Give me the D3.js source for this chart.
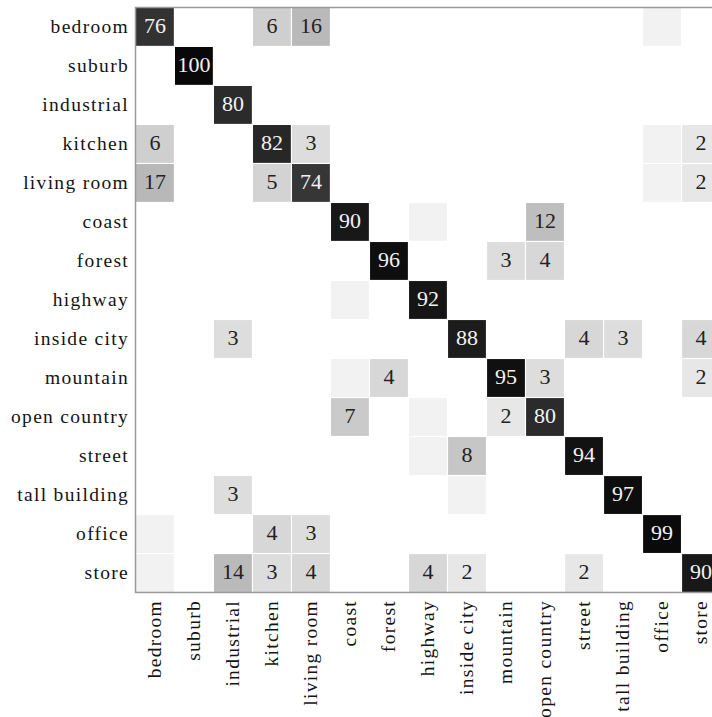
<!DOCTYPE html>
<html>
<head>
<meta charset="utf-8">
<script src="https://cdn.jsdelivr.net/npm/d3@7"></script>
<style>
  html, body { margin: 0; padding: 0; background: #fff; }
  svg { display: block; }
  svg text { font-family: "Liberation Serif"; }
</style>
</head>
<body>
<svg id="chart" width="712" height="717"></svg>
<script>
// Scene classes (true class on rows, predicted class on columns)
const categories = [
  "bedroom", "suburb", "industrial", "kitchen", "living room", "coast", "forest",
  "highway", "inside city", "mountain", "open country", "street", "tall building",
  "office", "store"
];

// Confusion matrix, percentages per true class
const matrix = [
  [76, 0, 0, 6, 16, 0, 0, 0, 0, 0, 0, 0, 0, 1, 0],
  [0, 100, 0, 0, 0, 0, 0, 0, 0, 0, 0, 0, 0, 0, 0],
  [0, 0, 80, 0, 0, 0, 0, 0, 0, 0, 0, 0, 0, 0, 0],
  [6, 0, 0, 82, 3, 0, 0, 0, 0, 0, 0, 0, 0, 1, 2],
  [17, 0, 0, 5, 74, 0, 0, 0, 0, 0, 0, 0, 0, 1, 2],
  [0, 0, 0, 0, 0, 90, 0, 1, 0, 0, 12, 0, 0, 0, 0],
  [0, 0, 0, 0, 0, 0, 96, 0, 0, 3, 4, 0, 0, 0, 0],
  [0, 0, 0, 0, 0, 1, 0, 92, 0, 0, 0, 0, 0, 0, 0],
  [0, 0, 3, 0, 0, 0, 0, 0, 88, 0, 0, 4, 3, 0, 4],
  [0, 0, 0, 0, 0, 1, 4, 0, 0, 95, 3, 0, 0, 0, 2],
  [0, 0, 0, 0, 0, 7, 0, 1, 0, 2, 80, 0, 0, 0, 0],
  [0, 0, 0, 0, 0, 0, 0, 1, 8, 0, 0, 94, 0, 0, 0],
  [0, 0, 3, 0, 0, 0, 0, 0, 1, 0, 0, 0, 97, 0, 0],
  [1, 0, 0, 4, 3, 0, 0, 0, 0, 0, 0, 0, 0, 99, 0],
  [1, 0, 14, 3, 4, 0, 0, 4, 2, 0, 0, 2, 0, 0, 90]
];

// Values below this are shaded but not labelled
const labelThreshold = 2;

const cellSize = 38.93;
const plotLeft = 136, plotTop = 8;
const plotSize = cellSize * categories.length;
const serifFamily = '"Liberation Serif"';

const svg = d3.select("#chart");

const x = d3.scaleBand().domain(categories).range([plotLeft, plotLeft + plotSize]).paddingInner(0.03);
const y = d3.scaleBand().domain(categories).range([plotTop, plotTop + plotSize]).paddingInner(0.03);

// Grey ramp: white for zero, near-black at 100
const shade = d3.scaleLinear()
  .domain([0, 1, 2, 3, 4, 8, 14, 20, 75, 90, 100])
  .range([255, 242, 231, 221, 215, 198, 186, 182, 52, 24, 8])
  .clamp(true);
const fill = v => { const g = Math.round(shade(v)); return `rgb(${g},${g},${g})`; };

const cells = [];
matrix.forEach((row, i) => row.forEach((v, j) => {
  if (v > 0) cells.push({ r: categories[i], c: categories[j], v });
}));

const grid = svg.append("g");

grid.selectAll("rect.cell")
  .data(cells)
  .join("rect")
  .attr("class", "cell")
  .attr("x", d => x(d.c))
  .attr("y", d => y(d.r))
  .attr("width", x.bandwidth())
  .attr("height", y.bandwidth())
  .attr("fill", d => fill(d.v));

grid.selectAll("text.val")
  .data(cells.filter(d => d.v >= labelThreshold))
  .join("text")
  .attr("class", "val")
  .attr("x", d => x(d.c) + x.bandwidth() / 2)
  .attr("y", d => y(d.r) + y.bandwidth() / 2)
  .attr("dy", "0.27em")
  .attr("text-anchor", "middle")
  .style("font-family", serifFamily)
  .style("font-size", "22px")
  .style("fill", d => d.v >= 50 ? "#f2f2f2" : "#222")
  .text(d => d.v);

// Plot frame
svg.append("rect")
  .attr("x", plotLeft - 0.5)
  .attr("y", plotTop - 0.5)
  .attr("width", plotSize + 1)
  .attr("height", plotSize + 1)
  .attr("fill", "none")
  .attr("stroke", "#9a9a9a")
  .attr("stroke-width", 1.5);

const labelFont = sel => sel
  .style("font-family", serifFamily)
  .style("font-size", "19.5px")
  .style("letter-spacing", "1.3px")
  .style("fill", "#141414");

// Row labels
const yAxis = svg.append("g")
  .attr("transform", `translate(${plotLeft},0)`)
  .call(d3.axisLeft(y).tickSize(0).tickPadding(7));
yAxis.attr("font-family", null);
yAxis.select(".domain").remove();
yAxis.selectAll("text").call(labelFont).attr("dy", "0.3em");

// Column labels, rotated
const xAxis = svg.append("g")
  .attr("transform", `translate(0,${plotTop + plotSize})`)
  .call(d3.axisBottom(x).tickSize(0).tickPadding(0));
xAxis.attr("font-family", null);
xAxis.select(".domain").remove();
xAxis.selectAll("text")
  .call(labelFont)
  .attr("transform", "rotate(-90)")
  .attr("text-anchor", "end")
  .attr("x", -8)
  .attr("y", 0)
  .attr("dy", "0.33em");
</script>
</body>
</html>
